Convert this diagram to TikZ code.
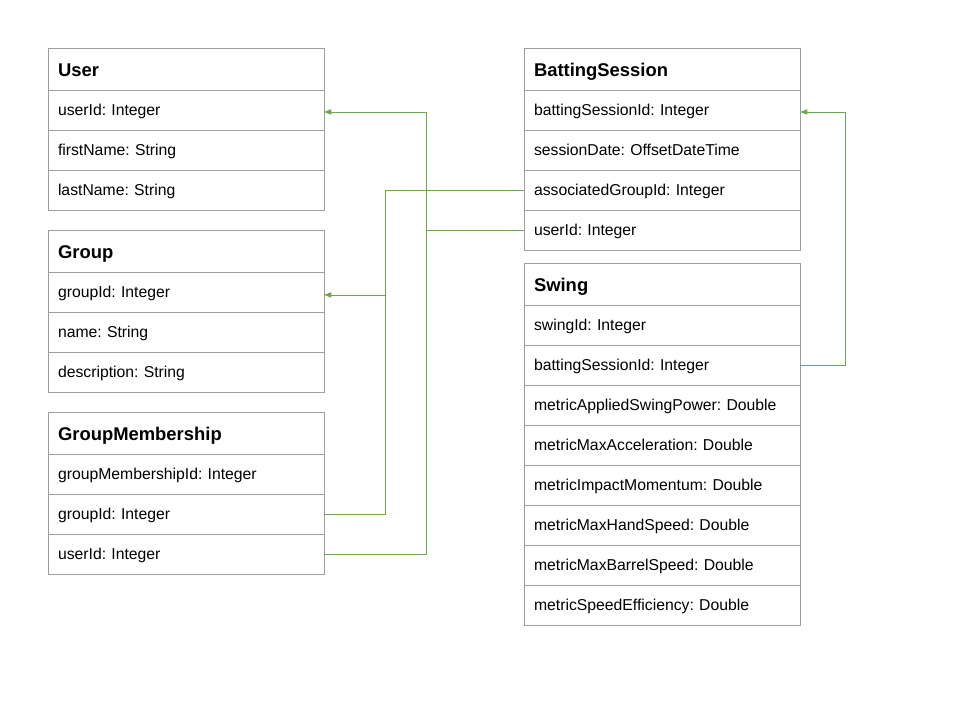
\documentclass[tikz,border=0pt]{standalone}
\usepackage{fontspec}
\setmainfont{Liberation Sans}
\usepackage{xcolor}
\usetikzlibrary{arrows.meta,calc}
\definecolor{boxgray}{HTML}{9E9E9E}
\definecolor{linkgreen}{HTML}{6AA84F}
\frenchspacing

\begin{document}
\begin{tikzpicture}[x=0.025cm,y=-0.025cm]
            \tikzset{head/.style = {draw=boxgray, line width=0.6pt, outer sep=0pt, anchor=north west, minimum height=1.05cm,
                                    text width=6.4cm, inner xsep=0.25cm, align=left, text height=1.2em, text depth=0.2em,
                                    font=\fontsize{13.1}{15}\selectfont\bfseries}}
            \tikzset{field/.style = {draw=boxgray, line width=0.6pt, outer sep=0pt, anchor=north west, minimum height=1cm,
                                     text width=6.4cm, inner xsep=0.25cm, align=left, text height=0.95em, text depth=0.2em,
                                     font=\fontsize{11.2}{13}\selectfont}}
            \tikzset{edge/.style = {draw=linkgreen, line width=0.6pt}}
            \tikzset{link/.style = {edge, -{Triangle[length=1.8mm,width=1.3mm]}}}

            \useasboundingbox (0,0) rectangle (960,720);

            % tables
            \node[head] (user) at (48,48) {User};
            \foreach \t [count=\i] in {userId: Integer, firstName: String, lastName: String}
            {
              \node[field] (user-\i) at ($(user.south west)+(0,{40*(\i-1)})$) {\t};
            }
            \node[head] (group) at (48,230) {Group};
            \foreach \t [count=\i] in {groupId: Integer, name: String, description: String}
            {
              \node[field] (group-\i) at ($(group.south west)+(0,{40*(\i-1)})$) {\t};
            }
            \node[head] (gm) at (48,412) {GroupMembership};
            \foreach \t [count=\i] in {groupMembershipId: Integer, groupId: Integer, userId: Integer}
            {
              \node[field] (gm-\i) at ($(gm.south west)+(0,{40*(\i-1)})$) {\t};
            }
            \node[head] (bs) at (524,48) {BattingSession};
            \foreach \t [count=\i] in {battingSessionId: Integer, sessionDate: OffsetDateTime,
                                       associatedGroupId: Integer, userId: Integer}
            {
              \node[field] (bs-\i) at ($(bs.south west)+(0,{40*(\i-1)})$) {\t};
            }
            \node[head] (swing) at (524,263) {Swing};
            \foreach \t [count=\i] in {swingId: Integer, battingSessionId: Integer,
                                       metricAppliedSwingPower: Double, metricMaxAcceleration: Double,
                                       metricImpactMomentum: Double, metricMaxHandSpeed: Double,
                                       metricMaxBarrelSpeed: Double, metricSpeedEfficiency: Double}
            {
              \node[field] (swing-\i) at ($(swing.south west)+(0,{40*(\i-1)})$) {\t};
            }

            % edges
            \coordinate (userbus) at (426,0);
            \coordinate (groupbus) at (385,0);
            \coordinate (swingbus) at (845,0);
            \draw[link] (bs-4.west) -- (bs-4.west -| userbus) |- ([yshift=-1.4pt]user-1.east);
            \draw[edge] (gm-3.east) -| (userbus |- bs-4.west);
            \draw[link] (bs-3.west) -- (bs-3.west -| groupbus) |- ([yshift=-2.1pt]group-1.east);
            \draw[edge] (gm-2.east) -| (groupbus |- bs-3.west);
            \draw[link] (swing-2.east) -- (swing-2.east -| swingbus) |- ([yshift=-1.4pt]bs-1.east);

          \end{tikzpicture}
\end{document}
